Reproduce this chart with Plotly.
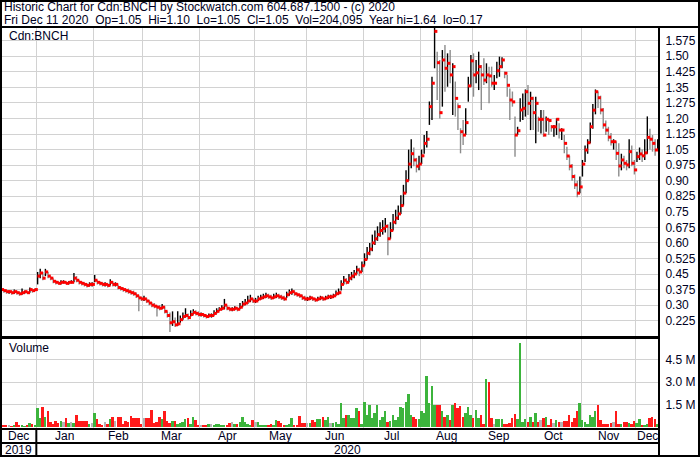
import plotly.graph_objects as go

# ---------------- data ----------------
month_names = ["Dec", "Jan", "Feb", "Mar", "Apr", "May", "Jun", "Jul", "Aug", "Sep", "Oct", "Nov", "Dec"]
month_days = [14, 22, 19, 22, 21, 20, 22, 22, 20, 21, 21, 21, 9]
year_labels = ["2019", "2020"]

close = [
    0.375, 0.37, 0.365, 0.365, 0.36, 0.365, 0.36, 0.355, 0.36, 0.365, 0.36, 0.375, 0.37, 0.375,
    0.44, 0.455, 0.43, 0.46, 0.44, 0.43, 0.415, 0.41, 0.405, 0.41, 0.41, 0.405, 0.41, 0.41, 0.43, 0.42, 0.41, 0.405, 0.40, 0.395, 0.40, 0.40,
    0.42, 0.41, 0.405, 0.40, 0.40, 0.395, 0.41, 0.40, 0.40, 0.385, 0.38, 0.375, 0.37, 0.365, 0.36, 0.355, 0.345, 0.335, 0.33,
    0.33, 0.32, 0.31, 0.30, 0.295, 0.29, 0.285, 0.29, 0.27, 0.25, 0.215, 0.22, 0.205, 0.21, 0.23, 0.245, 0.25, 0.24, 0.255, 0.265, 0.26, 0.255,
    0.255, 0.25, 0.245, 0.25, 0.25, 0.26, 0.27, 0.28, 0.285, 0.30, 0.285, 0.28, 0.28, 0.285, 0.28, 0.29, 0.305, 0.31, 0.32, 0.33, 0.32,
    0.32, 0.33, 0.335, 0.34, 0.345, 0.34, 0.335, 0.34, 0.345, 0.34, 0.335, 0.33, 0.35, 0.36, 0.365, 0.355, 0.35, 0.345, 0.335, 0.33,
    0.33, 0.335, 0.33, 0.325, 0.33, 0.335, 0.33, 0.335, 0.34, 0.34, 0.345, 0.355, 0.36, 0.40, 0.42, 0.41, 0.43, 0.44, 0.45, 0.47, 0.46, 0.49,
    0.52, 0.55, 0.57, 0.60, 0.62, 0.64, 0.66, 0.67, 0.68, 0.62, 0.66, 0.70, 0.72, 0.74, 0.78, 0.84, 0.90, 0.98, 1.03, 1.00, 0.97, 0.98,
    1.02, 1.08, 1.10, 1.257, 1.37, 1.62, 1.469, 1.228, 1.482, 1.442, 1.466, 1.41, 1.45, 1.297, 1.257, 1.136, 1.12, 1.18, 1.357, 1.478,
    1.41, 1.42, 1.45, 1.41, 1.385, 1.41, 1.405, 1.37, 1.37, 1.43, 1.45, 1.482, 1.418, 1.36, 1.289, 1.28, 1.12, 1.141, 1.241, 1.249, 1.329,
    1.273, 1.297, 1.228, 1.273, 1.196, 1.196, 1.12, 1.196, 1.19, 1.16, 1.16, 1.196, 1.144, 1.144, 1.08, 1.019, 0.97, 0.92, 0.88, 0.84, 0.87,
    0.98, 1.048, 1.083, 1.16, 1.24, 1.329, 1.30, 1.241, 1.169, 1.144, 1.11, 1.088, 1.088, 1.032, 0.971, 1.0, 0.984, 0.976, 1.04, 0.984, 0.952,
    1.016, 1.029, 1.02, 1.034, 1.109, 1.10, 1.08, 1.048, 1.05,
]

high = [
    0.38, 0.375, 0.375, 0.37, 0.37, 0.375, 0.37, 0.365, 0.38, 0.37, 0.365, 0.385, 0.375, 0.38,
    0.46, 0.475, 0.46, 0.475, 0.46, 0.44, 0.43, 0.42, 0.415, 0.42, 0.42, 0.415, 0.415, 0.42, 0.455, 0.44, 0.42, 0.415, 0.41, 0.405, 0.41, 0.41,
    0.445, 0.42, 0.415, 0.41, 0.41, 0.405, 0.425, 0.415, 0.41, 0.40, 0.39, 0.385, 0.38, 0.38, 0.37, 0.37, 0.36, 0.35, 0.34,
    0.345, 0.335, 0.325, 0.315, 0.31, 0.30, 0.30, 0.305, 0.295, 0.27, 0.265, 0.27, 0.24, 0.27, 0.25, 0.265, 0.285, 0.26, 0.275, 0.28, 0.275, 0.27,
    0.265, 0.26, 0.255, 0.26, 0.26, 0.275, 0.285, 0.29, 0.30, 0.33, 0.30, 0.29, 0.29, 0.295, 0.29, 0.31, 0.32, 0.33, 0.345, 0.35, 0.335,
    0.335, 0.345, 0.35, 0.355, 0.36, 0.355, 0.35, 0.355, 0.36, 0.355, 0.35, 0.345, 0.365, 0.375, 0.38, 0.37, 0.36, 0.355, 0.35, 0.345,
    0.34, 0.345, 0.34, 0.335, 0.34, 0.345, 0.34, 0.345, 0.35, 0.35, 0.355, 0.37, 0.38, 0.42, 0.44, 0.43, 0.45, 0.46, 0.47, 0.49, 0.48, 0.51,
    0.55, 0.58, 0.60, 0.64, 0.66, 0.68, 0.70, 0.71, 0.72, 0.69, 0.70, 0.74, 0.76, 0.78, 0.83, 0.88, 0.95, 1.05, 1.10, 1.06, 1.01, 1.02,
    1.05, 1.12, 1.14, 1.282, 1.401, 1.64, 1.522, 1.482, 1.53, 1.554, 1.514, 1.53, 1.466, 1.378, 1.273, 1.153, 1.193, 1.249, 1.401, 1.506,
    1.514, 1.482, 1.522, 1.458, 1.49, 1.466, 1.45, 1.45, 1.41, 1.474, 1.498, 1.495, 1.426, 1.41, 1.345, 1.33, 1.209, 1.16, 1.297, 1.321, 1.34,
    1.361, 1.329, 1.305, 1.305, 1.209, 1.241, 1.241, 1.209, 1.2, 1.168, 1.168, 1.2, 1.177, 1.153, 1.12, 1.064, 1.02, 0.98, 0.93, 0.90, 0.92,
    1.0, 1.07, 1.10, 1.18, 1.27, 1.34, 1.33, 1.31, 1.25, 1.19, 1.16, 1.13, 1.10, 1.09, 1.08, 1.03, 1.02, 1.0, 1.10, 1.07, 1.0,
    1.04, 1.06, 1.05, 1.10, 1.21, 1.15, 1.12, 1.10, 1.10,
]

low = [
    0.37, 0.36, 0.355, 0.355, 0.35, 0.355, 0.35, 0.345, 0.35, 0.355, 0.355, 0.36, 0.36, 0.37,
    0.40, 0.43, 0.42, 0.44, 0.43, 0.42, 0.405, 0.40, 0.40, 0.40, 0.405, 0.40, 0.40, 0.405, 0.41, 0.41, 0.40, 0.395, 0.39, 0.385, 0.39, 0.39,
    0.41, 0.40, 0.395, 0.39, 0.39, 0.385, 0.395, 0.39, 0.39, 0.375, 0.37, 0.365, 0.36, 0.355, 0.35, 0.345, 0.335, 0.27, 0.32,
    0.32, 0.31, 0.30, 0.29, 0.285, 0.245, 0.275, 0.28, 0.26, 0.24, 0.17, 0.20, 0.195, 0.20, 0.215, 0.23, 0.24, 0.23, 0.245, 0.255, 0.25, 0.245,
    0.245, 0.24, 0.235, 0.24, 0.24, 0.25, 0.26, 0.27, 0.275, 0.28, 0.275, 0.27, 0.27, 0.275, 0.27, 0.28, 0.29, 0.30, 0.305, 0.315, 0.31,
    0.31, 0.32, 0.325, 0.33, 0.335, 0.33, 0.325, 0.33, 0.335, 0.33, 0.325, 0.32, 0.335, 0.345, 0.35, 0.345, 0.34, 0.335, 0.325, 0.32,
    0.32, 0.325, 0.32, 0.315, 0.32, 0.325, 0.32, 0.325, 0.33, 0.33, 0.335, 0.345, 0.35, 0.37, 0.40, 0.40, 0.41, 0.42, 0.43, 0.45, 0.44, 0.46,
    0.49, 0.52, 0.54, 0.56, 0.59, 0.61, 0.63, 0.64, 0.65, 0.54, 0.62, 0.66, 0.69, 0.71, 0.74, 0.78, 0.84, 0.90, 0.96, 0.97, 0.94, 0.95,
    0.98, 1.03, 1.06, 1.169, 1.193, 1.442, 1.289, 1.2, 1.257, 1.329, 1.353, 1.37, 1.217, 1.209, 1.144, 1.032, 1.072, 1.12, 1.281, 1.353,
    1.305, 1.37, 1.337, 1.241, 1.361, 1.37, 1.273, 1.353, 1.337, 1.394, 1.401, 1.442, 1.394, 1.305, 1.193, 1.257, 1.016, 1.12, 1.184, 1.193, 1.209,
    1.217, 1.144, 1.144, 1.08, 1.136, 1.128, 1.112, 1.136, 1.12, 1.136, 1.112, 1.12, 1.104, 1.096, 1.032, 1.0, 0.95, 0.90, 0.86, 0.82, 0.84,
    0.92, 0.99, 1.03, 1.08, 1.15, 1.22, 1.25, 1.22, 1.15, 1.12, 1.09, 1.07, 1.05, 1.0, 0.92, 0.95, 0.96, 0.95, 0.96, 0.97, 0.93,
    0.99, 1.0, 0.99, 1.0, 1.03, 1.05, 1.04, 1.02, 1.05,
]

volume_m = [
    0.05, 0.10, 0.07, 0.12, 0.05, 0.08, 0.35, 0.10, 0.12, 0.05, 0.08, 0.28, 0.18, 0.10,
    1.27, 0.58, 1.31, 0.64, 1.10, 0.35, 0.23, 0.41, 0.28, 0.41, 0.35, 0.58, 0.28, 0.35, 0.28, 0.81, 0.41, 0.41, 0.41, 0.41, 0.23, 0.28,
    0.92, 0.51, 0.18, 0.12, 0.35, 0.23, 0.51, 0.64, 0.41, 0.64, 0.64, 0.23, 0.41, 0.35, 0.74, 0.58, 0.58, 0.58, 0.18,
    0.58, 0.58, 0.58, 1.15, 0.28, 0.35, 0.64, 0.51, 1.04, 0.41, 0.28, 0.41, 0.41, 0.23, 0.28, 0.35, 0.51, 0.58, 0.18, 0.64, 0.46, 0.12,
    0.12, 0.12, 0.12, 0.18, 0.23, 0.12, 0.18, 0.18, 0.12, 0.12, 0.07, 0.28, 0.35, 0.23, 0.23, 0.35, 0.64, 0.35, 0.23, 0.12, 0.46,
    0.35, 0.35, 0.12, 0.12, 0.12, 0.12, 0.18, 0.12, 0.46, 0.41, 0.28, 0.12, 0.12, 0.23, 0.58, 0.12, 0.12, 0.74, 0.28, 0.28,
    0.28, 0.28, 0.46, 0.35, 0.51, 0.51, 0.69, 0.46, 0.64, 0.28, 0.28, 0.35, 0.18, 1.57, 0.58, 0.81, 0.81, 0.58, 0.58, 1.27, 1.04, 0.23,
    1.66, 0.81, 1.50, 0.58, 0.92, 1.50, 0.46, 0.69, 1.04, 0.35, 0.41, 0.81, 0.46, 0.69, 1.33, 1.27, 1.66, 2.19, 0.81, 0.64, 0.51, 0.51,
    1.04, 0.92, 3.40, 1.61, 2.71, 1.50, 1.50, 1.50, 1.04, 0.64, 0.81, 0.46, 1.50, 1.61, 1.27, 1.38, 0.64, 0.92, 1.33, 0.81,
    0.58, 1.15, 0.58, 0.81, 0.23, 3.22, 3.00, 0.58, 0.18, 0.51, 0.51, 0.51, 0.23, 0.23, 0.28, 0.58, 0.87, 0.51, 5.57, 0.35, 0.51,
    0.35, 0.64, 0.35, 0.92, 0.35, 0.46, 0.58, 0.69, 0.12, 0.51, 0.28, 0.46, 0.35, 0.35, 0.41, 0.41, 0.81, 0.35, 0.58, 1.04, 1.61,
    0.46, 0.35, 0.18, 0.81, 0.69, 1.04, 1.50, 0.46, 0.23, 0.23, 0.18, 0.28, 0.35, 1.04, 0.18, 0.18, 0.35, 0.35, 0.28, 0.18, 0.41,
    0.28, 0.51, 0.12, 0.12, 0.18, 0.58, 0.64, 0.51, 0.20,
]

price_ticks = [0.225, 0.30, 0.375, 0.45, 0.525, 0.60, 0.675, 0.75, 0.825, 0.90, 0.975,
               1.05, 1.125, 1.20, 1.275, 1.35, 1.425, 1.50, 1.575]
price_tick_text = ["0.225", "0.30", "0.375", "0.45", "0.525", "0.60", "0.675", "0.75", "0.825", "0.90", "0.975",
                   "1.05", "1.125", "1.20", "1.275", "1.35", "1.425", "1.50", "1.575"]
vol_ticks = [1.5, 3.0, 4.5]
vol_tick_text = ["1.5 M", "3.0 M", "4.5 M"]

header_line1 = "Historic Chart for Cdn:BNCH by Stockwatch.com 604.687.1500 - (c) 2020"
header_line2 = ("Fri Dec 11 2020\u00a0\u00a0Op=1.05\u00a0\u00a0Hi=1.10\u00a0\u00a0Lo=1.05\u00a0\u00a0Cl=1.05"
                "\u00a0\u00a0Vol=204,095\u00a0\u00a0Year hi=1.64\u00a0\u00a0lo=0.17")
symbol_label = "Cdn:BNCH"

n = len(close)
assert n == sum(month_days) == len(high) == len(low) == len(volume_m), (n, len(high), len(low), len(volume_m))

# ---------------- geometry helpers ----------------
W, H = 700, 457
def px(p):
    return p / W
def py(p):
    return 1 - p / H

PLOT_R = 659
PRICE_TOP, PRICE_BOT = 27, 337
VOL_TOP, VOL_BOT = 338, 429
MONTH_BOT = 443

x = list(range(n))
bounds = []
acc = 0
for d in month_days[:-1]:
    acc += d
    bounds.append(acc - 0.5)
edges = [-0.5] + bounds + [n - 0.5]
mids = [(edges[k] + edges[k + 1]) / 2 for k in range(len(month_days))]

# colours by direction
UP_BAR, DN_BAR = "#000000", "#8c8c8c"
GREEN, RED, GREY = "#3cb43c", "#ff1a1a", "#b4b4b4"
bar_up_x, bar_up_y, bar_dn_x, bar_dn_y = [], [], [], []
vol_colors = []
for i in range(n):
    prev = close[i - 1] if i > 0 else close[i]
    if close[i] >= prev:
        bar_up_x += [i, i, None]
        bar_up_y += [low[i], high[i], None]
    else:
        bar_dn_x += [i, i, None]
        bar_dn_y += [low[i], high[i], None]
    if close[i] > prev:
        vol_colors.append(GREEN)
    elif close[i] < prev:
        vol_colors.append(RED)
    else:
        vol_colors.append(GREY)

fig = go.Figure()
fig.add_trace(go.Scatter(x=bar_dn_x, y=bar_dn_y, mode="lines", line=dict(color=DN_BAR, width=1.4),
                         connectgaps=False, hoverinfo="skip", xaxis="x", yaxis="y"))
fig.add_trace(go.Scatter(x=bar_up_x, y=bar_up_y, mode="lines", line=dict(color=UP_BAR, width=1.4),
                         connectgaps=False, hoverinfo="skip", xaxis="x", yaxis="y"))
fig.add_trace(go.Scatter(x=[i + 0.5 for i in x], y=close, mode="markers",
                         marker=dict(symbol="square", size=3, color="#ff0000", line=dict(width=0)),
                         hoverinfo="skip", xaxis="x", yaxis="y"))
fig.add_trace(go.Bar(x=x, y=volume_m, marker=dict(color=vol_colors, line=dict(width=0)), width=0.75,
                     hoverinfo="skip", xaxis="x2", yaxis="y2"))

GRID = "#d2d2d2"
TXT = "#000022"
FONT = "Liberation Sans, Arial, sans-serif"

vol_zero_px = 427
vol_scale = 22.5 / 1.5  # px per million
vol_range = [-(VOL_BOT - vol_zero_px) / vol_scale, (vol_zero_px - VOL_TOP) / vol_scale]
p_scale = 207.4
p_ref_px, p_ref = 40.7, 1.575
price_range = [p_ref - (PRICE_BOT - p_ref_px) / p_scale, p_ref + (p_ref_px - PRICE_TOP) / p_scale]

axis_common = dict(range=[-0.5, n - 0.5], tickvals=bounds, showgrid=True, gridcolor=GRID, gridwidth=1,
                   showticklabels=False, zeroline=False, showline=False, ticks="", fixedrange=True)

fig.update_layout(
    width=W, height=H, margin=dict(l=0, r=0, t=0, b=0),
    paper_bgcolor="white", plot_bgcolor="white", showlegend=False,
    font=dict(family=FONT, size=12, color=TXT),
    xaxis=dict(domain=[0, px(PLOT_R)], anchor="y", **axis_common),
    xaxis2=dict(domain=[0, px(PLOT_R)], anchor="y2", **axis_common),
    yaxis=dict(domain=[py(PRICE_BOT), py(PRICE_TOP)], range=price_range, side="right",
               tickvals=price_ticks, ticktext=price_tick_text, showgrid=True, gridcolor=GRID,
               zeroline=False, showline=False, ticks="outside", ticklen=3, tickcolor="rgba(0,0,0,0)",
               tickfont=dict(size=12, color=TXT, family=FONT), anchor="x", fixedrange=True),
    yaxis2=dict(domain=[py(VOL_BOT), py(VOL_TOP)], range=vol_range, side="right",
                tickvals=vol_ticks, ticktext=vol_tick_text, showgrid=True, gridcolor=GRID,
                zeroline=False, showline=False, ticks="outside", ticklen=3, tickcolor="rgba(0,0,0,0)",
                tickfont=dict(size=12, color=TXT, family=FONT), anchor="x2", fixedrange=True),
    bargap=0,
)

ann = []
ann.append(dict(text=header_line1, x=px(2), y=py(7.5), xref="paper", yref="paper", xanchor="left",
                yanchor="middle", showarrow=False, font=dict(size=12, color=TXT, family=FONT)))
ann.append(dict(text=header_line2, x=px(2), y=py(19.5), xref="paper", yref="paper", xanchor="left",
                yanchor="middle", showarrow=False, font=dict(size=12, color=TXT, family=FONT)))
ann.append(dict(text=symbol_label, x=px(7), y=py(35.5), xref="paper", yref="paper", xanchor="left",
                yanchor="middle", showarrow=False, font=dict(size=12, color=TXT, family=FONT)))
ann.append(dict(text="Volume", x=px(7), y=py(348), xref="paper", yref="paper", xanchor="left",
                yanchor="middle", showarrow=False, font=dict(size=12, color=TXT, family=FONT)))
for k, name in enumerate(month_names):
    ann.append(dict(text=name, x=mids[k], y=py((VOL_BOT + MONTH_BOT) / 2), xref="x", yref="paper",
                    xanchor="center", yanchor="middle", showarrow=False,
                    font=dict(size=12, color=TXT, family=FONT)))
year_mid = [(edges[0] + edges[1]) / 2, (edges[1] + edges[-1]) / 2]
for k, yl in enumerate(year_labels):
    ann.append(dict(text=yl, x=year_mid[k], y=py((MONTH_BOT + H) / 2), xref="x", yref="paper",
                    xanchor="center", yanchor="middle", showarrow=False,
                    font=dict(size=12, color=TXT, family=FONT)))
fig.update_layout(annotations=ann)

LW = 2
shapes = []
def hline(ypix, x0pix, x1pix, w=LW):
    shapes.append(dict(type="line", xref="paper", yref="paper", x0=px(x0pix), x1=px(x1pix),
                       y0=py(ypix), y1=py(ypix), line=dict(color="black", width=w), layer="above"))
def vline(xpix, y0pix, y1pix, w=LW):
    shapes.append(dict(type="line", xref="paper", yref="paper", x0=px(xpix), x1=px(xpix),
                       y0=py(y0pix), y1=py(y1pix), line=dict(color="black", width=w), layer="above"))

hline(1, 0, W)
hline(H - 1, 0, W)
vline(1, 0, H)
vline(W - 1, 0, H)
hline(PRICE_TOP, 0, W)
vline(PLOT_R, PRICE_TOP, H)
hline(PRICE_BOT + 0.5, 0, PLOT_R, 3)
hline(VOL_BOT, 0, PLOT_R)
hline(MONTH_BOT, 0, PLOT_R)
# year separator between Dec 2019 and Jan 2020 in label rows
shapes.append(dict(type="line", xref="x", yref="paper", x0=edges[1], x1=edges[1],
                   y0=py(VOL_BOT), y1=py(H), line=dict(color="black", width=LW), layer="above"))
fig.update_layout(shapes=shapes)

fig.write_html("out.html", config={"displayModeBar": False},
               post_script="document.body.style.margin='0';document.body.style.padding='0';"
                           "document.body.style.overflow='hidden';")
